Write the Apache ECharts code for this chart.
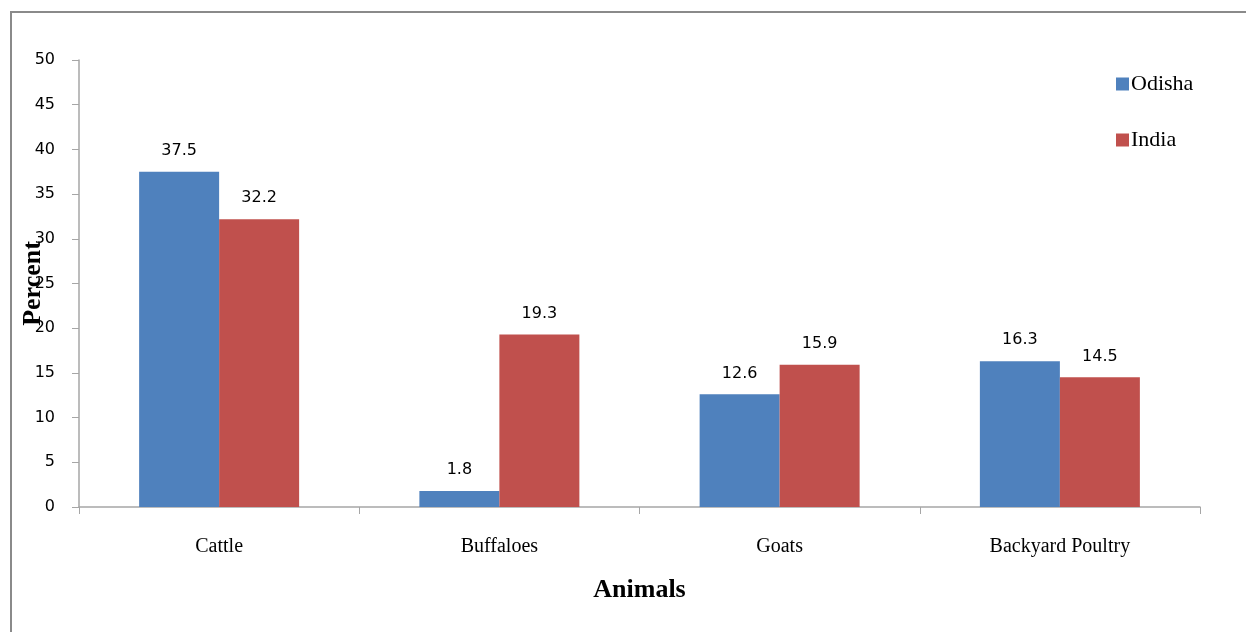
<!DOCTYPE html>
<html>
<head>
<meta charset="utf-8">
<script src="https://cdn.jsdelivr.net/npm/echarts@6/dist/echarts.min.js"></script>
<style>
  html, body { margin: 0; padding: 0; background: #fff; }
  #chart { width: 1246px; height: 632px; }
</style>
</head>
<body>
<div id="chart"></div>
<script>
// Share of livestock by animal type, Odisha vs India (percent)
const categories = ['Cattle', 'Buffaloes', 'Goats', 'Backyard Poultry'];
const odisha = [37.5, 1.8, 12.6, 16.3];
const india = [32.2, 19.3, 15.9, 14.5];
const yTicks = { min: 0, max: 50, interval: 5 };

const chart = echarts.init(document.getElementById('chart'));

const labelStyle = {
  show: true,
  position: 'top',
  distance: 13,
  fontFamily: 'DejaVu Sans',
  fontSize: 16,
  color: '#000'
};

chart.setOption({
  animation: false,
  graphic: [{
    type: 'rect',
    shape: { x: 11, y: 12, width: 1400, height: 800 },
    style: { fill: 'none', stroke: '#8a8a8a', lineWidth: 2 },
    silent: true
  }],
  legend: {
    orient: 'vertical',
    left: 1111,
    top: 68,
    itemWidth: 13,
    itemHeight: 13,
    itemGap: 34,
    icon: 'rect',
    textStyle: { fontFamily: 'Liberation Serif', fontSize: 22, color: '#000', padding: [0, 0, 0, -3] },
    data: ['Odisha', 'India']
  },
  grid: { left: 79, right: 46, top: 60, bottom: 125, outerBoundsMode: 'none' },
  xAxis: {
    type: 'category',
    data: categories,
    name: 'Animals',
    nameLocation: 'middle',
    nameGap: 70,
    nameMoveOverlap: false,
    nameTextStyle: { fontFamily: 'Liberation Serif', fontSize: 26, fontWeight: 'bold', color: '#000' },
    axisLine: { lineStyle: { color: '#a6a6a6', width: 1.5 } },
    axisTick: { show: true, length: 7, lineStyle: { color: '#a6a6a6' } },
    axisLabel: { margin: 30, fontFamily: 'Liberation Serif', fontSize: 20, color: '#000' }
  },
  yAxis: {
    type: 'value',
    min: yTicks.min,
    max: yTicks.max,
    interval: yTicks.interval,
    name: 'Percent',
    nameLocation: 'middle',
    nameGap: 33,
    nameMoveOverlap: false,
    nameTextStyle: { fontFamily: 'Liberation Serif', fontSize: 26, fontWeight: 'bold', color: '#000' },
    axisLine: { show: true, lineStyle: { color: '#a6a6a6', width: 1.5 } },
    axisTick: { show: true, length: 7, lineStyle: { color: '#a6a6a6' } },
    splitLine: { show: false },
    axisLabel: { margin: 24, fontFamily: 'DejaVu Sans', fontSize: 16, color: '#000' }
  },
  series: [
    {
      name: 'Odisha',
      type: 'bar',
      data: odisha,
      barWidth: 80,
      barGap: '0%',
      itemStyle: { color: '#4f81bd' },
      label: labelStyle
    },
    {
      name: 'India',
      type: 'bar',
      data: india,
      barWidth: 80,
      barGap: '0%',
      itemStyle: { color: '#c0504d' },
      label: labelStyle
    }
  ]
});
</script>
</body>
</html>
